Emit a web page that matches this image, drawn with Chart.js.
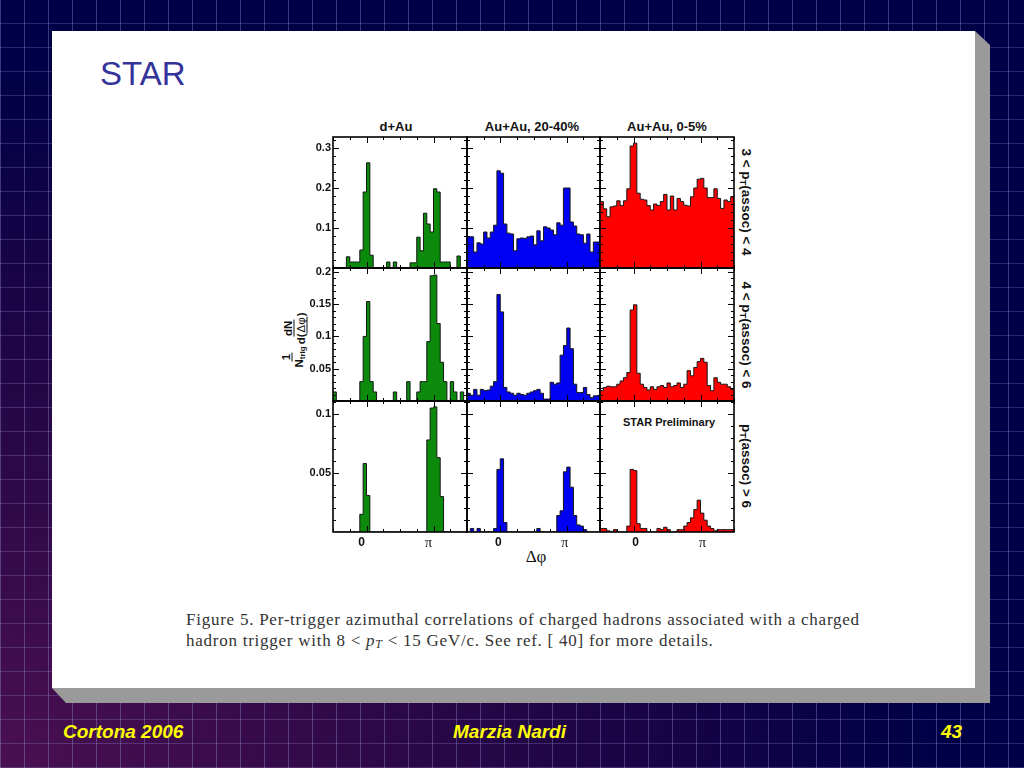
<!DOCTYPE html>
<html>
<head>
<meta charset="utf-8">
<script src="https://cdn.jsdelivr.net/npm/chart.js@4.4.0/dist/chart.umd.min.js"></script>
<style>
  body {
    margin: 0; width: 1024px; height: 768px; overflow: hidden; position: relative;
    font-family: "Liberation Sans", Arial, sans-serif;
    background-color: #000046;
    background-image:
      repeating-linear-gradient(90deg, rgba(160,160,230,.35) 0 1px, transparent 1px 24px),
      repeating-linear-gradient(0deg, rgba(160,160,230,.25) 0 1px, transparent 1px 24px),
      radial-gradient(ellipse at 0% 100%, #4a1050 0%, rgba(60,10,70,.6) 35%, rgba(0,0,70,0) 65%);
  }
  .abs { position: absolute; }
  #sheet { left: 52px; top: 31px; width: 923px; height: 657px; background: #fff; }
  #bevelR { left: 975px; top: 31px; width: 15px; height: 672px; background: #9a9a9a;
            clip-path: polygon(0 0, 100% 14px, 100% 100%, 0 100%); }
  #bevelB { left: 52px; top: 688px; width: 938px; height: 15px; background: #9a9a9a;
            clip-path: polygon(0 0, 100% 0, 100% 100%, 14px 100%); }
  #title { left: 100px; top: 55px; font-size: 33px; color: #333399; }
  .foot { top: 721px; font-size: 19px; font-weight: bold; font-style: italic; color: #ffff00; }
  canvas { position: absolute; }
  .coltitle { top: 119px; font-size: 13px; font-weight: bold; color: #111; transform: translateX(-50%); white-space: nowrap; }
  .rowlab { font-size: 13.5px; font-weight: bold; color: #111; white-space: nowrap;
            transform: translate(-50%, -50%) rotate(90deg); }
  #ytitle { left: 294px; top: 340px; transform: translate(-50%, -50%) rotate(-90deg);
            display: flex; align-items: center; font-size: 11.5px; font-weight: bold; color: #111; white-space: nowrap; }
  .frac { display: inline-flex; flex-direction: column; align-items: center; margin: 0 1px; }
  .frac span:first-child { border-bottom: 1px solid #111; padding: 0 1px; line-height: 12px; }
  .frac span:last-child { line-height: 12px; }
  sub { font-size: 70%; vertical-align: -2px; }
  #prelim { left: 669px; top: 416px; transform: translateX(-50%); font-size: 11px; font-weight: bold; color: #111; white-space: nowrap; }
  #dphi { left: 536px; top: 547px; transform: translateX(-50%); font-family: "Liberation Serif", serif; font-size: 17px; color: #111; }
  .cap { left: 186px; font-family: "Liberation Serif", "DejaVu Serif", serif; font-size: 17px; letter-spacing: 0.75px; color: #333; white-space: nowrap; }
</style>
</head>
<body>
<div id="sheet" class="abs"></div>
<div id="bevelR" class="abs"></div>
<div id="bevelB" class="abs"></div>
<div id="title" class="abs">STAR</div>

<div class="abs coltitle" style="left:396px">d+Au</div>
<div class="abs coltitle" style="left:532px">Au+Au, 20-40%</div>
<div class="abs coltitle" style="left:667px">Au+Au, 0-5%</div>

<div class="abs rowlab" style="left:746px; top:202px">3 &lt; p<sub>T</sub>(assoc) &lt; 4</div>
<div class="abs rowlab" style="left:746px; top:335px">4 &lt; p<sub>T</sub>(assoc) &lt; 6</div>
<div class="abs rowlab" style="left:746px; top:466px">p<sub>T</sub>(assoc) &gt; 6</div>

<div id="ytitle" class="abs">
  <span class="frac"><span>1</span><span>N<sub>trig</sub></span></span>
  <span class="frac"><span>dN</span><span>d(<span style="font-weight:normal">&Delta;&phi;</span>)</span></span>
</div>
<div id="prelim" class="abs">STAR Preliminary</div>
<div id="dphi" class="abs">&Delta;&phi;</div>

<div class="abs cap" style="top:610px">Figure 5. Per-trigger azimuthal correlations of charged hadrons associated with a charged</div>
<div class="abs cap" style="top:631px">hadron trigger with 8 &lt; <i>p<sub>T</sub></i> &lt; 15 GeV/c. See ref. [ 40] for more details.</div>

<div class="abs foot" style="left:63px">Cortona 2006</div>
<div class="abs foot" style="left:453px">Marzia Nardi</div>
<div class="abs foot" style="left:941px">43</div>

<script>
// ---- data: per-trigger yields, 40 bins of delta-phi from -pi/2 to 3pi/2 ----
const dAu_3to4 = [0,0,0,0,0.028,0.015,0.015,0.015,0.045,0.19,0.263,0.032,0,0,0,0,0.015,0,0.015,0,
                  0,0,0,0.013,0.013,0.077,0.043,0.137,0.11,0.09,0.198,0.19,0.015,0.015,0.015,0,0,0.03,0,0];
const auau2040_3to4 = [0.078,0.078,0.04,0.063,0.06,0.09,0.075,0.09,0.107,0.243,0.237,0.11,0.087,0.085,0.043,0.073,0.075,0.074,0.078,0.08,
                       0.058,0.093,0.068,0.103,0.1,0.095,0.083,0.113,0.107,0.2,0.2,0.115,0.105,0.085,0.083,0.062,0.085,0.04,0.065,0.065];
const auau05_3to4 = [0.166,0.148,0.128,0.153,0.155,0.168,0.156,0.168,0.198,0.305,0.312,0.187,0.172,0.17,0.156,0.145,0.16,0.156,0.166,0.184,
                     0.145,0.18,0.145,0.174,0.166,0.157,0.155,0.178,0.2,0.222,0.224,0.2,0.176,0.176,0.198,0.174,0.149,0.17,0.166,0.178];

const dAu_4to6 = [0.014,0,0,0,0,0,0,0,0.03,0.1,0.154,0.03,0.014,0,0,0,0,0,0.014,0,
                  0,0,0.03,0,0,0.014,0.03,0.03,0.092,0.194,0.195,0.12,0.06,0.03,0,0.03,0.014,0,0.014,0];
const auau2040_4to6 = [0.012,0.009,0.018,0.009,0.018,0.016,0.017,0.023,0.03,0.165,0.138,0.021,0.014,0.012,0.009,0.012,0.01,0.009,0.012,0.014,
                       0.016,0.018,0.012,0.003,0.003,0.029,0.026,0.028,0.071,0.086,0.113,0.081,0.026,0.013,0.013,0.021,0.01,0.005,0.008,0.008];
const auau05_4to6 = [0.016,0.021,0.023,0.022,0.022,0.026,0.031,0.036,0.044,0.141,0.149,0.043,0.026,0.021,0.017,0.022,0.018,0.022,0.024,0.021,
                     0.028,0.022,0.024,0.028,0.021,0.026,0.047,0.039,0.052,0.061,0.066,0.06,0.024,0.016,0.036,0.029,0.026,0.026,0.022,0.018];

const dAu_6 = [0,0,0,0,0,0,0,0,0.015,0.058,0.031,0,0,0,0,0,0,0,0,0,
               0,0,0,0,0,0,0,0,0.078,0.105,0.106,0.063,0.03,0,0,0,0,0,0,0];
const auau2040_6 = [0,0.003,0,0.003,0,0,0,0,0.003,0.053,0.062,0.008,0,0,0,0,0,0,0,0,
                    0,0.003,0,0,0,0,0,0.014,0.018,0.051,0.055,0.038,0.014,0.006,0.005,0.002,0,0,0,0];
const auau05_6 = [0.003,0.003,0.001,0,0.002,0,0,0,0.005,0.053,0.052,0.007,0.003,0.003,0,0,0,0.003,0.002,0.004,
                  0.002,0,0,0.002,0.002,0.005,0.008,0.012,0.019,0.027,0.016,0.01,0.005,0.003,0.001,0.002,0.002,0.002,0.002,0.002];

const panelSeries = [
  [dAu_3to4, auau2040_3to4, auau05_3to4],
  [dAu_4to6, auau2040_4to6, auau05_4to6],
  [dAu_6, auau2040_6, auau05_6]
];

// axis ranges and tick labels per row
const rowYMax = [0.3275, 0.206, 0.111];
const rowYLabels = [[0.1, 0.2, 0.3], [0.05, 0.1, 0.15, 0.2], [0.05, 0.1]];
const rowYMinor = [0.02, 0.01, 0.01];
const xLabelValues = [0, Math.PI];
const xLabelText = ['0', 'π'];

const PI = Math.PI;
const xMin = -PI / 2, xMax = 3 * PI / 2, nBins = 40;
const binW = (xMax - xMin) / nBins;
const xMinorTicks = [-PI/2, -PI/4, 0, PI/4, PI/2, 3*PI/4, PI, 5*PI/4, 3*PI/2];

const colColors = ['#0b8a0b', '#0000f2', '#ff0000'];

// layout of the 3x3 grid (px)
const colLeft = [333, 467, 600], colWidth = [134, 133, 134];
const rowTop = [137, 268, 401], rowHeight = [131, 133, 131];
const colLabelShift = [-5, -2, 2];
const PAD = 2, yAxisW = 34, xAxisH = 20;

// frame + inward ROOT-style ticks on all four sides
const frameTicks = {
  id: 'frameTicks',
  afterDraw(chart, args, opts) {
    const { ctx, chartArea: a, scales: { x, y } } = chart;
    ctx.save();
    ctx.strokeStyle = '#000';
    ctx.lineWidth = 1;
    ctx.beginPath();
    xMinorTicks.forEach(v => {
      const px = Math.round(x.getPixelForValue(v)) + 0.5;
      const len = (v === 0 || v === PI) ? 6 : 3;
      ctx.moveTo(px, a.bottom); ctx.lineTo(px, a.bottom - len);
      ctx.moveTo(px, a.top); ctx.lineTo(px, a.top + len);
    });
    const nMinor = Math.floor(opts.yMax / opts.yMinor + 1e-6);
    for (let k = 1; k <= nMinor; k++) {
      const v = k * opts.yMinor;
      const py = Math.round(y.getPixelForValue(v)) + 0.5;
      const major = opts.yLabels.some(l => Math.abs(l - v) < 1e-6);
      const len = major ? 6 : 3;
      ctx.moveTo(a.left, py); ctx.lineTo(a.left + len, py);
      ctx.moveTo(a.right, py); ctx.lineTo(a.right - len, py);
    }
    ctx.stroke();
    ctx.lineWidth = 1.6;
    ctx.strokeRect(a.left, a.top, a.right - a.left, a.bottom - a.top);
    ctx.restore();
  }
};

function histPoints(values) {
  const pts = values.map((v, i) => ({ x: xMin + i * binW, y: v }));
  pts.push({ x: xMax, y: values[values.length - 1] });
  return pts;
}

for (let r = 0; r < 3; r++) {
  for (let c = 0; c < 3; c++) {
    const showY = c === 0, showX = r === 2;
    const cv = document.createElement('canvas');
    const w = colWidth[c] + 2 * PAD + (showY ? yAxisW : 0);
    const h = rowHeight[r] + 2 * PAD + (showX ? xAxisH : 0);
    cv.width = w; cv.height = h;
    cv.style.left = (colLeft[c] - PAD - (showY ? yAxisW : 0)) + 'px';
    cv.style.top = (rowTop[r] - PAD) + 'px';
    document.body.appendChild(cv);

    new Chart(cv.getContext('2d'), {
      type: 'line',
      data: {
        datasets: [{
          data: histPoints(panelSeries[r][c]),
          stepped: 'before',
          fill: 'origin',
          backgroundColor: colColors[c],
          borderColor: '#161616',
          borderWidth: 1,
          pointRadius: 0
        }]
      },
      options: {
        responsive: false,
        animation: false,
        events: [],
        layout: { padding: PAD },
        plugins: {
          legend: { display: false },
          tooltip: { enabled: false },
          frameTicks: { yMax: rowYMax[r], yMinor: rowYMinor[r], yLabels: rowYLabels[r] }
        },
        scales: {
          x: {
            type: 'linear', min: xMin, max: xMax,
            display: showX,
            grid: { display: false, drawTicks: false, tickLength: 0 }, border: { display: false },
            afterBuildTicks: s => { s.ticks = xLabelValues.map(v => ({ value: v })); },
            afterFit: s => { s.height = showX ? xAxisH : 0; s.paddingLeft = 0; s.paddingRight = 0; },
            ticks: {
              autoSkip: false, maxRotation: 0, padding: 3, labelOffset: colLabelShift[c], color: '#111',
              callback: v => xLabelText[xLabelValues.indexOf(v)],
              font: ctx => (ctx.tick && ctx.tick.value === 0)
                ? { family: 'Liberation Sans, Arial', size: 12, weight: 'bold' }
                : { family: 'Liberation Serif, serif', size: 14 }
            }
          },
          y: {
            type: 'linear', min: 0, max: rowYMax[r],
            display: showY,
            grid: { display: false, drawTicks: false, tickLength: 0 }, border: { display: false },
            afterBuildTicks: s => { s.ticks = rowYLabels[r].map(v => ({ value: v })); },
            afterFit: s => { s.width = showY ? yAxisW : 0; s.paddingTop = 0; s.paddingBottom = 0; },
            ticks: {
              padding: 2, color: '#111',
              font: { family: 'Liberation Sans, Arial', size: 11, weight: 'bold' },
              callback: v => String(parseFloat(v.toFixed(2)))
            }
          }
        }
      },
      plugins: [frameTicks]
    });
  }
}
</script>
</body>
</html>
